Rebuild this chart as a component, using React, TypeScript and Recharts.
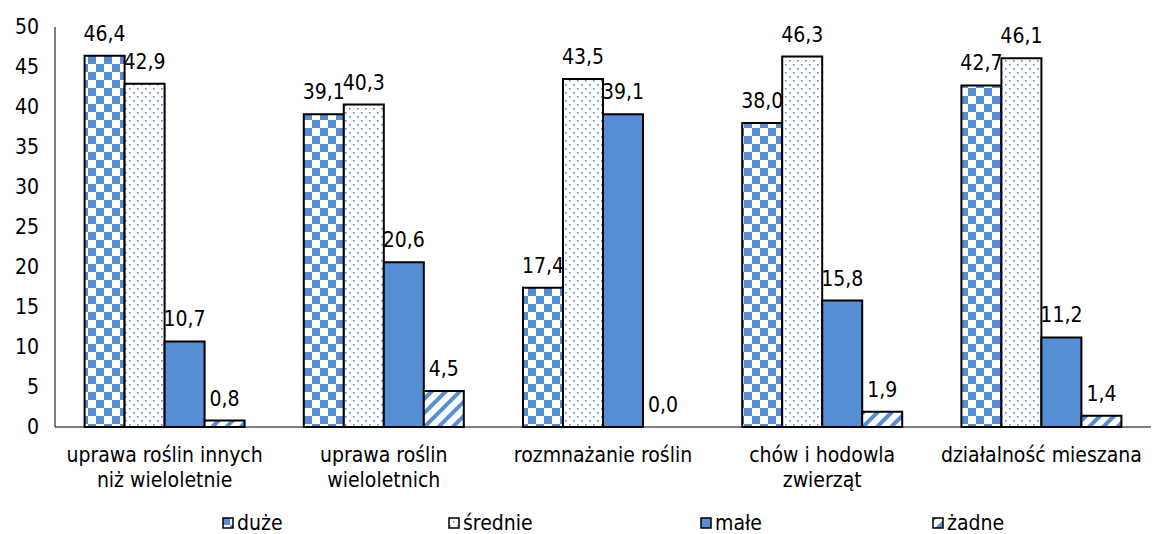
import React from "react";
import { BarChart, Bar, XAxis, YAxis, LabelList, Rectangle } from "recharts";

const categories = [
  "uprawa roślin innych|niż wieloletnie",
  "uprawa roślin|wieloletnich",
  "rozmnażanie roślin",
  "chów i hodowla|zwierząt",
  "działalność mieszana",
];
const duze = [46.4, 39.1, 17.4, 38.0, 42.7];
const srednie = [42.9, 40.3, 43.5, 46.3, 46.1];
const male = [10.7, 20.6, 39.1, 15.8, 11.2];
const zadne = [0.8, 4.5, 0.0, 1.9, 1.4];
const yTicks = [0, 5, 10, 15, 20, 25, 30, 35, 40, 45, 50];
const seriesNames = ["duże", "średnie", "małe", "żadne"];

const data = categories.map((c, i) => ({
  name: c,
  duze: duze[i],
  srednie: srednie[i],
  male: male[i],
  zadne: zadne[i],
}));

const BLUE = "#558ED5";
const FONT = "'DejaVu Sans Condensed', 'DejaVu Sans', Verdana, sans-serif";
const FS = 21;
const fills = ["url(#pChecker)", "url(#pDots)", BLUE, "url(#pStripes)"];

const fmt = (v: any) => Number(v).toFixed(1).replace(".", ",");

const XTick = (props: any) => {
  const { x, y, payload } = props;
  const lines = String(payload.value).split("|");
  return (
    <text x={x} y={y} textAnchor="middle" fontSize={FS} fontFamily={FONT} fill="#000">
      {lines.map((l: string, i: number) => (
        <tspan key={i} x={x} dy={i === 0 ? 27 : 25}>
          {l}
        </tspan>
      ))}
    </text>
  );
};

const ValueLabel = (props: any) => {
  const { x, y, width, height, value } = props;
  if (value === undefined || value === null) return null;
  const top = Number(value) === 0 ? Number(y) + Number(height) : Number(y);
  return (
    <text
      x={Number(x) + Number(width) / 2}
      y={top - 15}
      textAnchor="middle"
      fontSize={FS}
      fontFamily={FONT}
      fill="#000"
    >
      {fmt(value)}
    </text>
  );
};

const makeShape = (k: string) => (props: any) => {
  const v = props.payload ? props.payload[k] : props.value;
  if (Number(v) === 0) return <g />;
  return <Rectangle {...props} />;
};

const legendLeft = [222, 448, 700, 932];

const LegendBox = () => (
  <div style={{ position: "absolute", left: 0, top: 512, width: 1153, height: 22 }}>
    {seriesNames.map((n, i) => (
      <div
        key={n}
        style={{
          position: "absolute",
          left: legendLeft[i],
          top: 0,
          display: "flex",
          alignItems: "center",
          fontFamily: FONT,
          fontSize: FS,
          lineHeight: "22px",
          color: "#000",
          whiteSpace: "nowrap",
        }}
      >
        <svg width={12} height={12} style={{ marginRight: 3 }}>
          <rect x={1} y={1} width={10} height={10} fill={fills[i]} stroke="#000" strokeWidth={1.5} />
        </svg>
        {n}
      </div>
    ))}
  </div>
);

export default function App() {
  const keys = ["duze", "srednie", "male", "zadne"];
  return (
    <div style={{ position: "relative", width: 1153, height: 534, background: "#fff" }}>
      <style>{`body{margin:0}`}</style>
      <BarChart
        width={1153}
        height={534}
        data={data}
        margin={{ top: 27, right: 2, bottom: 37, left: 0 }}
        barGap={0}
        barCategoryGap={29.6}
      >
        <defs>
          <pattern id="pChecker" width={16} height={16} patternUnits="userSpaceOnUse">
            <rect width={16} height={16} fill="#fff" />
            <rect x={0} y={0} width={8} height={8} fill={BLUE} />
            <rect x={8} y={8} width={8} height={8} fill={BLUE} />
          </pattern>
          <pattern id="pDots" width={8} height={8} patternUnits="userSpaceOnUse">
            <rect width={8} height={8} fill="#fff" />
            <rect x={1} y={0} width={1.6} height={1.6} fill={BLUE} />
            <rect x={5} y={4} width={1.6} height={1.6} fill={BLUE} />
          </pattern>
          <pattern
            id="pStripes"
            width={10}
            height={10}
            patternUnits="userSpaceOnUse"
            patternTransform="rotate(45)"
          >
            <rect width={10} height={10} fill="#fff" />
            <rect x={0} y={0} width={4} height={10} fill={BLUE} />
          </pattern>
        </defs>
        <XAxis
          dataKey="name"
          tick={<XTick />}
          tickLine={false}
          axisLine={{ stroke: "#000", strokeWidth: 1 }}
          interval={0}
          height={70}
        />
        <YAxis
          domain={[0, 50]}
          ticks={yTicks}
          tickLine={false}
          axisLine={{ stroke: "#000", strokeWidth: 1 }}
          width={55}
          tickMargin={10}
          tick={{ fontSize: FS, fontFamily: FONT, fill: "#000" }}
        />
        {keys.map((k, i) => (
          <Bar
            key={k}
            dataKey={k}
            name={seriesNames[i]}
            fill={fills[i]}
            stroke="#000"
            strokeWidth={2}
            minPointSize={k === "zadne" ? 1 : 0}
            shape={k === "zadne" ? makeShape(k) : undefined}
            isAnimationActive={false}
          >
            <LabelList dataKey={k} content={<ValueLabel />} />
          </Bar>
        ))}
      </BarChart>
      <LegendBox />
    </div>
  );
}
